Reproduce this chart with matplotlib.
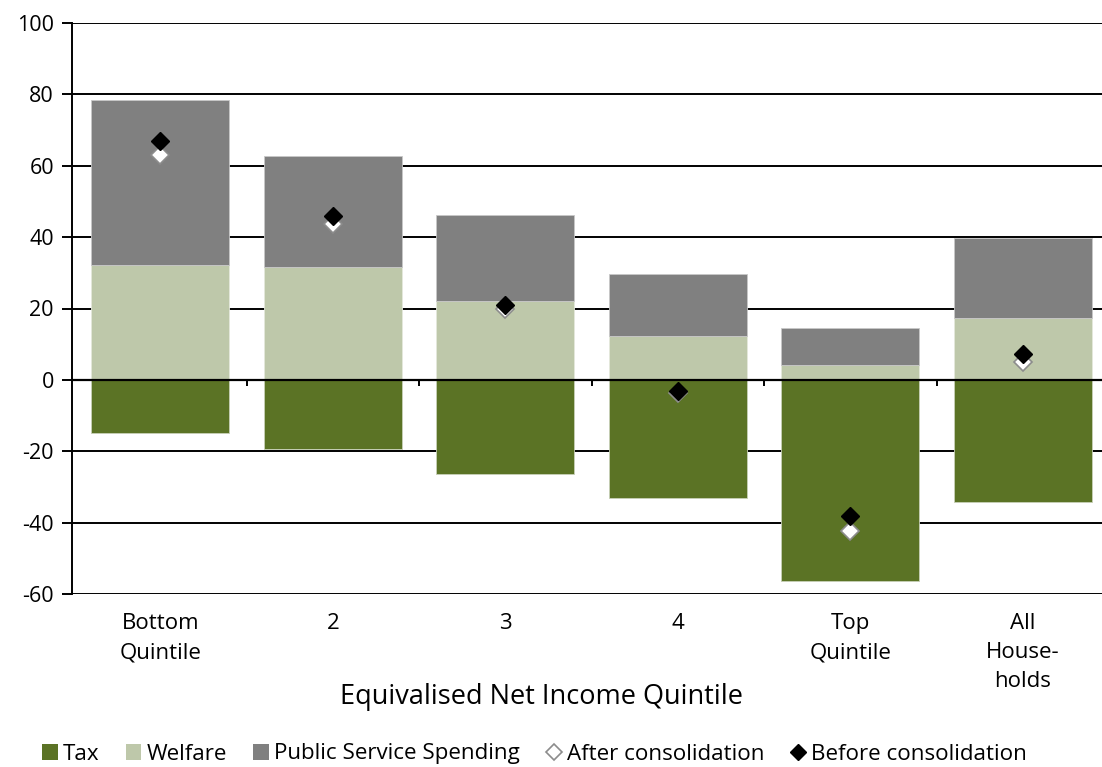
import numpy as np
import matplotlib.pyplot as plt
from matplotlib.patches import Patch
from matplotlib.lines import Line2D

plt.rcParams['font.family'] = ['Open Sans', 'DejaVu Sans']
plt.rcParams['axes.unicode_minus'] = False

# values
categories = ['Bottom\nQuintile', '2', '3', '4', 'Top\nQuintile', 'All\nHouse-\nholds']
tax = [-14.9, -19.3, -26.3, -33.1, -56.3, -34.2]
welfare = [32.2, 31.7, 22.1, 12.3, 4.2, 17.4]
public_services = [46.2, 31.1, 24.1, 17.4, 10.4, 22.4]
after_consolidation = [63.0, 43.7, 19.9, -3.6, -42.3, 5.0]
before_consolidation = [67.0, 46.0, 21.0, -3.1, -38.1, 7.3]

c_tax = '#5B7325'
c_welfare = '#BEC8AA'
c_pss = '#808080'

W, H = 1102, 767
fig = plt.figure(figsize=(W / 100, H / 100), dpi=100)
ax = fig.add_axes([72 / W, 1 - 594 / H, 1 - 72 / W, (594 - 23) / H])

x = np.arange(len(categories))
bw = 0.80

ax.bar(x, tax, bw, color=c_tax, edgecolor='#C8D0B8', linewidth=0.6, zorder=2)
ax.bar(x, welfare, bw, color=c_welfare, edgecolor='#E4E8DC', linewidth=0.6, zorder=2)
ax.bar(x, public_services, bw, bottom=welfare, color=c_pss, edgecolor='#C8C8C8',
       linewidth=0.6, zorder=2)

ax.plot(x, after_consolidation, linestyle='none', marker='D', markersize=9,
        markerfacecolor='white', markeredgecolor='#8C8C8C', markeredgewidth=1.2, zorder=4)
ax.plot(x, before_consolidation, linestyle='none', marker='D', markersize=9,
        markerfacecolor='black', markeredgecolor='black', zorder=5)

ax.set_ylim(-60, 100)
ax.set_yticks(np.arange(-60, 101, 20))
x0 = -0.5 - 2 / 172.5
ax.set_xlim(x0, x0 + (W - 72) / 172.5)
ax.yaxis.grid(True, color='black', linewidth=1.4, zorder=0)
ax.set_axisbelow(True)
ax.axhline(0, color='black', linewidth=1.6, zorder=3)

# small category separator ticks on the zero line
bounds = x[:-1] + 0.5
ax.vlines(bounds, -1.6, 0, color='black', linewidth=1.4, zorder=3)

for s in ['top', 'right', 'bottom']:
    ax.spines[s].set_visible(False)
ax.spines['left'].set_linewidth(1.4)
ax.tick_params(axis='y', length=7, width=1.4, labelsize=15.5, pad=6)
ax.set_xticks(x)
ax.set_xticklabels(categories, fontsize=16, linespacing=1.5)
ax.tick_params(axis='x', length=0, pad=14)

fig.text(542 / W, 1 - 697 / H, 'Equivalised Net Income Quintile', fontsize=19.5,
         ha='center', va='center')

handles = [
    Patch(facecolor=c_tax),
    Patch(facecolor=c_welfare),
    Patch(facecolor=c_pss),
    Line2D([], [], linestyle='none', marker='D', markersize=8, markerfacecolor='white',
           markeredgecolor='#8C8C8C', markeredgewidth=1.2),
    Line2D([], [], linestyle='none', marker='D', markersize=8, markerfacecolor='black',
           markeredgecolor='black'),
]
labels = ['Tax', 'Welfare', 'Public Service Spending', 'After consolidation',
          'Before consolidation']
fig.legend(handles, labels, loc='center left', bbox_to_anchor=(42 / W, 1 - 754 / H),
           ncol=5, frameon=False, fontsize=16.1, handlelength=0.7, handleheight=0.7,
           handletextpad=0.25, columnspacing=1.15, borderaxespad=0, borderpad=0)

fig.savefig('out.png', dpi=100)
